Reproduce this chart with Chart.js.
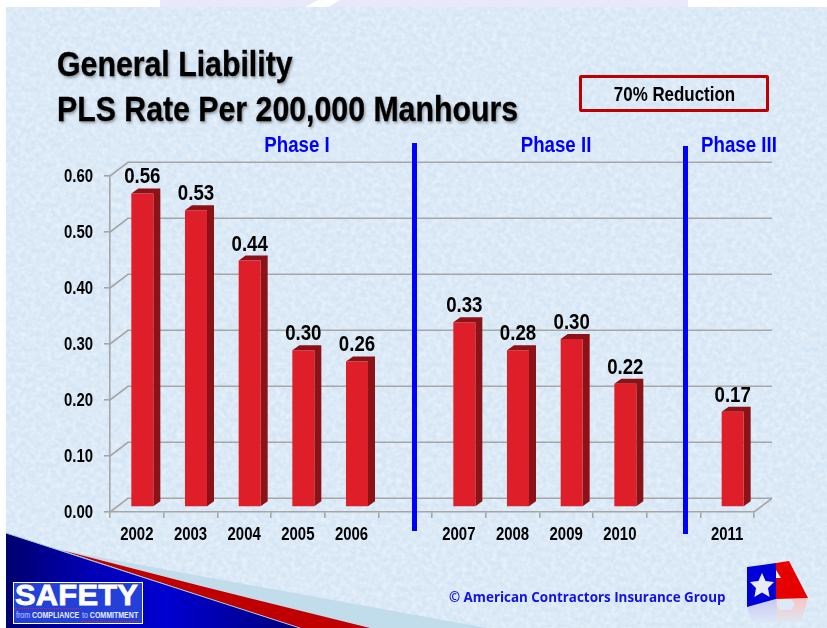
<!DOCTYPE html>
<html>
<head>
<meta charset="utf-8">
<script src="https://cdn.jsdelivr.net/npm/chart.js@4"></script>
<style>
html,body{margin:0;padding:0;width:827px;height:628px;overflow:hidden;background:#fff}
#stage{position:relative;width:827px;height:628px;overflow:hidden}
.abs{position:absolute}
#lav1{left:160px;top:0;width:528px;height:7px;background:#e8e8fb}
#slash{left:0;top:0}
#paper{left:6px;top:7px;width:821px;height:621px;background-color:#d4e5f5;
background-image:url("data:image/svg+xml;utf8,<svg xmlns='http://www.w3.org/2000/svg' width='260' height='260'><filter id='f'><feTurbulence type='fractalNoise' baseFrequency='0.2' numOctaves='3' seed='7' stitchTiles='stitch'/><feColorMatrix values='0 0 0 0 1  0 0 0 0 1  0 0 0 0 1  0.8 0 0 0 -0.22'/></filter><rect width='260' height='260' filter='url(%23f)'/></svg>")}
canvas{position:absolute;left:0;top:0}
.bold{font-family:"Liberation Sans",Arial,sans-serif;font-weight:700}
.title{left:57px;font:700 35px "Liberation Sans",Arial,sans-serif;color:#000;transform:scaleX(.865);transform-origin:left top;white-space:nowrap;-webkit-text-stroke:.3px #000;text-shadow:1.5px 1.5px 3px rgba(40,40,40,.45)}
.phase{color:#0000ff;font-size:22px;line-height:24px;white-space:nowrap;transform:translateX(-50%) scaleX(.85)}
.vline{background:#0000ff;width:5px}
#box{left:579px;top:75px;width:184px;height:31px;border:3px solid #c00000;border-radius:2px;text-align:center;font-size:20.5px;line-height:31px;color:#000}
#box span{display:inline-block;transform:scaleX(.825);white-space:nowrap}
#copy{left:449px;top:588px;font:700 13.4px "Open Sans",sans-serif;color:#1010e8;white-space:nowrap}
#logo{left:13px;top:582px;width:128px;height:40px;background:#2340d8;border:1px solid #fff;overflow:hidden}
#logo .s{position:absolute;left:1px;top:-6px;font:700 30px/36px "Liberation Sans",Arial,sans-serif;color:#fff;-webkit-text-stroke:.8px #fff;transform-origin:left top;transform:scaleX(1.03);letter-spacing:.2px}
#logo .t{position:absolute;font-size:9px;line-height:11px;color:#e8ecff;white-space:nowrap;top:26.5px;transform-origin:left top;transform:scaleX(.78)}
#logo .t i{font-style:normal;font-weight:400;opacity:.8}
#logo .r1{position:absolute;left:1px;top:25px;width:66px;border-top:1px dotted #e02030}
#logo .r2{position:absolute;left:67px;top:38px;width:58px;border-top:1px dotted #e02030}
</style>
</head>
<body>
<div id="stage">
<div class="abs" id="lav1"></div>
<svg class="abs" id="slash" width="827" height="7"><polygon points="305,7 318,0 340,0 328,7" fill="#fff"/></svg>
<div class="abs" id="paper"></div>
<svg class="abs" style="left:0;top:0" width="827" height="628">
<defs>
<linearGradient id="bg" x1="0" y1="0" x2="1" y2="0">
<stop offset="0" stop-color="#00006e"/><stop offset=".3" stop-color="#0000b8"/><stop offset=".55" stop-color="#0000d0"/><stop offset="1" stop-color="#000078"/>
</linearGradient>
<linearGradient id="rb" x1="0" y1="0" x2="0" y2="1"><stop offset="0" stop-color="#c8c8f2"/><stop offset="1" stop-color="#dbe8f7"/></linearGradient>
<linearGradient id="rr" x1="0" y1="0" x2="0" y2="1"><stop offset="0" stop-color="#f8c4c4"/><stop offset="1" stop-color="#dfe6f2"/></linearGradient>
</defs>
<polygon points="61,550 200,576 487,628 368,628" fill="#c1dcea"/>
<polygon points="61,550 200,585.7 370,628 300,628" fill="#c00000"/>
<polygon points="6,533 300,628 6,628" fill="url(#bg)"/>
<line x1="6" y1="533" x2="300" y2="628" stroke="#a8c8d8" stroke-width="1"/>
<!-- company mark -->
<polygon points="747,607 776,599 776,622 752,622" fill="url(#rb)"/>
<polygon points="776,599 808,598 801,622 776,622" fill="url(#rr)"/>
<polygon points="777,599 791,599 795,604 791,610 780,610 777,606" fill="#dde9f6"/>
<polygon points="776,563 789,561 808,598 776,599" fill="#e60000"/>
<polygon points="776,570 781,578 776,578" fill="#e6eefa"/>
<polygon points="747,567 776,563 776,599 747,607" fill="#0000d8"/>
<polygon points="762,573 765.6,581 774,582 768,588 769.6,597 762,592.6 754.4,597 756,588 750,582 758.4,581" fill="#e8ecfa"/>
</svg>
<canvas id="c" width="827" height="628"></canvas>
<div class="abs title" style="top:44px">General Liability</div>
<div class="abs title" style="top:89px">PLS Rate Per 200,000 Manhours</div>
<div class="abs bold" id="box"><span>70% Reduction</span></div>
<div class="abs bold phase" style="left:297px;top:133px">Phase I</div>
<div class="abs bold phase" style="left:555.5px;top:133px">Phase II</div>
<div class="abs bold phase" style="left:738.5px;top:133px">Phase III</div>
<div class="abs vline" style="left:412px;top:143px;height:388px"></div>
<div class="abs vline" style="left:683px;top:146px;height:388px"></div>
<div class="abs" id="copy">© American Contractors Insurance Group</div>
<div class="abs" id="logo"><div class="s">SAFETY</div><div class="r1"></div><div class="r2"></div><div class="t bold" style="left:2px"><i>from</i> COMPLIANCE</div><div class="t bold" style="left:68px"><i>to</i> COMMITMENT</div></div>
</div>
<script>
const categories = ['2002','2003','2004','2005','2006','','2007','2008','2009','2010','','2011'];
const barValues  = [0.56,0.53,0.44,0.28,0.26,null,0.33,0.28,0.30,0.22,null,0.17];
const valueLabels= ['0.56','0.53','0.44','0.30','0.26','','0.33','0.28','0.30','0.22','','0.17'];
const yMin = 0, yMax = 0.6, yStep = 0.1;

const FONT = '"Liberation Sans",Arial,sans-serif';
const GRID = '#a6a6a6';
const WALL = {dx:18, dy:-13.7}; // back wall offset of the 3D box
const SHIFT = {dx:5.5, dy:-5};  // bars stand inside the floor
const DEPTH = {dx:7, dy:-5};    // bar extrusion
const CONDENSE = 0.83;          // the reference uses a condensed bold face

const canvas = document.getElementById('c');
const rawCtx = canvas.getContext('2d');
const rawFill = rawCtx.fillText.bind(rawCtx);
rawCtx.fillText = function(t, x, y, w){
  rawCtx.save();
  rawCtx.translate(x, y + 1);
  rawCtx.scale(CONDENSE, 1);
  rawFill(t, 0, 0, w);
  rawCtx.restore();
};

const box3d = {
  id:'box3d',
  beforeDatasetsDraw(chart){
    const {ctx, scales:{x,y}, chartArea:a} = chart;
    ctx.save();
    ctx.strokeStyle = GRID; ctx.lineWidth = 1.6;
    for (let v = yMin; v <= yMax + 1e-9; v += yStep){
      const p = y.getPixelForValue(v);
      ctx.beginPath();
      ctx.moveTo(a.left, p);
      ctx.lineTo(a.left + WALL.dx, p + WALL.dy);
      ctx.lineTo(a.right + WALL.dx, p + WALL.dy);
      ctx.stroke();
    }
    const b = y.getPixelForValue(yMin);
    ctx.beginPath(); ctx.moveTo(a.right, b); ctx.lineTo(a.right + WALL.dx, b + WALL.dy); ctx.stroke();
    ctx.restore();
  },
  beforeDatasetDraw(chart, args){
    const {ctx} = chart;
    const meta = chart.getDatasetMeta(args.index);
    ctx.save();
    ctx.translate(SHIFT.dx, SHIFT.dy);
    ctx.fillStyle = '#8b1318';
    meta.data.forEach((el,i)=>{
      if (barValues[i] === null) return;
      const L = el.x - el.width/2, R = el.x + el.width/2, T = el.y, B = el.base;
      ctx.beginPath();
      ctx.moveTo(L,T); ctx.lineTo(L+DEPTH.dx,T+DEPTH.dy); ctx.lineTo(R+DEPTH.dx,T+DEPTH.dy);
      ctx.lineTo(R+DEPTH.dx,B+DEPTH.dy); ctx.lineTo(R,B); ctx.lineTo(R,T); ctx.closePath();
      ctx.fill();
    });
  },
  afterDatasetDraw(chart){ chart.ctx.restore(); },
  afterDatasetsDraw(chart, args){
    const {ctx} = chart;
    const meta = chart.getDatasetMeta(0);
    ctx.save();
    ctx.font = '700 22.5px ' + FONT;
    ctx.fillStyle = '#000'; ctx.textAlign = 'center'; ctx.textBaseline = 'alphabetic';
    meta.data.forEach((el,i)=>{
      if (!valueLabels[i]) return;
      ctx.fillText(valueLabels[i], el.x + SHIFT.dx, el.y + SHIFT.dy - 11);
    });
    ctx.restore();
  }
};

new Chart(canvas, {
  type:'bar',
  data:{labels:categories, datasets:[{data:barValues, backgroundColor:'#de1e28', borderWidth:0,
    barPercentage:0.41, categoryPercentage:1, clip:false}]},
  plugins:[box3d],
  options:{
    responsive:false, animation:false,
    layout:{padding:{top:176,right:73,bottom:84,left:0}},
    plugins:{legend:{display:false},title:{display:false},tooltip:{enabled:false}},
    scales:{
      x:{
        grid:{drawOnChartArea:false,color:GRID,lineWidth:1.6,tickLength:6,offset:true},
        border:{color:GRID,width:1.6},
        ticks:{color:'#000',font:{family:FONT,size:18,weight:'700'},padding:5,maxRotation:0,autoSkip:false},
        afterFit(s){s.height=32;}
      },
      y:{
        min:yMin,max:yMax,
        grid:{drawOnChartArea:false,color:GRID,lineWidth:1.6,tickLength:6},
        border:{color:GRID,width:1.6},
        ticks:{stepSize:yStep,color:'#000',font:{family:FONT,size:18,weight:'700'},padding:11,
          callback:v=>Number(v).toFixed(2)},
        afterFit(s){s.width=110;}
      }
    }
  }
});
</script>
</body>
</html>
